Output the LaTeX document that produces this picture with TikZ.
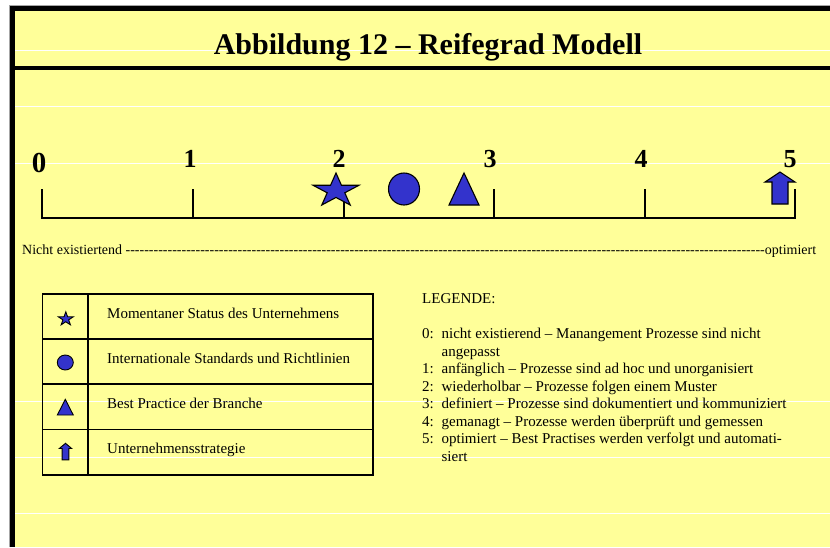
\documentclass[tikz,border=0pt]{standalone}
\usepackage{fontspec}
\setmainfont{Liberation Serif}
\usetikzlibrary{calc}
\definecolor{papier}{HTML}{FFFF99}
\definecolor{symblau}{HTML}{3333CC}
\newcommand{\stern}[2]{\draw[sym, shift={(#1)}, #2] (270:1) -- (306:0.382) -- (342:1) -- (18:0.382) -- (54:1) -- (90:0.382) -- (126:1) -- (162:0.382) -- (198:1) -- (234:0.382) -- cycle;}
\newcommand{\dreieck}[2]{\draw[sym, shift={(#1)}, #2] (0,-16) -- (15,16) -- (-15,16) -- cycle;}
\newcommand{\pfeil}[2]{\draw[sym, shift={(#1)}, #2] (0,0) -- (15,10) -- (8,10) -- (8,32) -- (-8,32) -- (-8,10) -- (-15,10) -- cycle;}

\begin{document}
\begin{tikzpicture}[x=1pt, y=-1pt,
  rahmen/.style={line width=5pt},
  sym/.style={draw=black, fill=symblau, line width=1.1pt},
  klein/.style={line width=0.9pt},
  achse/.style={line width=2.6pt},
  ziffer/.style={font=\fontsize{26}{26}\selectfont\bfseries, anchor=base, inner sep=0pt},
  zeile/.style={font=\fontsize{15}{17}\selectfont, anchor=base west, inner sep=0pt},
  tab/.style={line width=1.4pt},
  hell/.style={white, line width=0.9pt},
]
\useasboundingbox (0,0) rectangle (830,547);
\fill[papier] (10,6) rectangle (830,547);
\foreach \y in {50,106,163,401,457,513}
  \draw[hell] (15,\y) -- (830,\y);
\draw[gray!70, line width=0.8pt] (9.6,547) -- (9.6,5.6) -- (830,5.6);
\draw[rahmen] (12.5,547) -- (12.5,8.5) -- (830,8.5);
\draw[line width=4pt] (10,68) -- (830,68);
\node[font=\fontsize{30}{30}\selectfont\bfseries, anchor=base, inner sep=0pt] (titel) at (428,54) {Abbildung 12 – Reifegrad Modell};

\foreach \i/\x in {0/42,1/193,2/344,3/494,4/645,5/795} {
  \coordinate (t\i) at (\x,218);
  \coordinate (o\i) at (\x,189);
}
\draw[achse] (o0) -- (t0) -- (t5) -- (o5);
\foreach \i in {1,...,4}
  \draw[achse] (o\i) -- (t\i);
\node[ziffer, font=\fontsize{29}{29}\selectfont\bfseries] (n0) at (39,172) {0};
\node[ziffer] (n1) at (190,167.5) {1};
\node[ziffer] (n2) at (339,167.5) {2};
\node[ziffer] (n3) at (490,167.5) {3};
\node[ziffer] (n4) at (641,167.5) {4};
\node[ziffer] (n5) at (790,167.5) {5};

\coordinate (stern) at (336,190.7);
\coordinate (kreis) at (404,189);
\coordinate (drei) at (464,189);
\coordinate (spitze) at (780,172);
\stern{stern}{xscale=24.2, yscale=17.7}
\draw[sym] (kreis) ellipse [x radius=15.5pt, y radius=16pt];
\dreieck{drei}{}
\pfeil{spitze}{}

\node[font=\fontsize{14}{14}\selectfont, anchor=base west, inner sep=0pt] (skala) at (22,254)
  {\hbox to 794pt{Nicht existiertend \xleaders\hbox{-}\hfill optimiert}};

\draw[tab] (42.7,294) rectangle (373,475);
\draw[tab] (88,294) -- (88,475);
\foreach \y in {339,384,429.5}
  \draw[tab] (42.7,\y) -- (373,\y);
\node[zeile] (r1) at (107,318.3) {Momentaner Status des Unternehmens};
\node[zeile] (r2) at (107,363.3) {Internationale Standards und Richtlinien};
\node[zeile] (r3) at (107,408.5) {Best Practice der Branche};
\node[zeile] (r4) at (107,453.5) {Unternehmensstrategie};

\coordinate (lstern) at (65.8,319);
\coordinate (lkreis) at (65.3,362.5);
\coordinate (ldrei) at (65.3,407.2);
\coordinate (lpfeil) at (65.5,443.3);
\stern{lstern}{klein, xscale=7.9, yscale=7.2}
\draw[sym, klein] (lkreis) ellipse [x radius=8pt, y radius=7.5pt];
\dreieck{ldrei}{klein, xscale=0.533, yscale=0.49}
\pfeil{lpfeil}{klein, xscale=0.413, yscale=0.52}

\node[font=\fontsize{15}{17.5}\selectfont, align=left, anchor=north west, inner sep=0pt] (legende) at (422,293.5)
  {LEGENDE:\\[17.5pt]
   \makebox[19.4pt][l]{0:}nicht existierend – Manangement Prozesse sind nicht\\
   \hspace*{19.4pt}angepasst\\
   \makebox[19.4pt][l]{1:}anfänglich – Prozesse sind ad hoc und unorganisiert\\
   \makebox[19.4pt][l]{2:}wiederholbar – Prozesse folgen einem Muster\\
   \makebox[19.4pt][l]{3:}definiert – Prozesse sind dokumentiert und kommuniziert\\
   \makebox[19.4pt][l]{4:}gemanagt – Prozesse werden überprüft und gemessen\\
   \makebox[19.4pt][l]{5:}optimiert – Best Practises werden verfolgt und automati-\\
   \hspace*{19.4pt}siert};
\end{tikzpicture}
\end{document}
